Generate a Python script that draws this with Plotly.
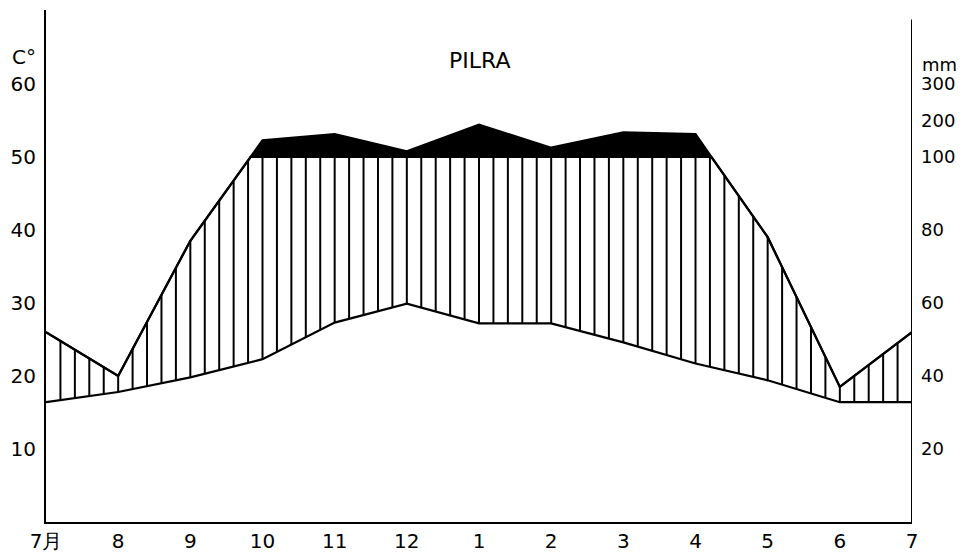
import plotly.graph_objects as go
import numpy as np

# climate diagram data, July to July
months = ["7月", "8", "9", "10", "11", "12", "1", "2", "3", "4", "5", "6", "7"]
temp = [16.4, 17.8, 19.8, 22.3, 27.3, 29.9, 27.2, 27.2, 24.6, 21.7, 19.4, 16.4, 16.4]
precip = [52, 40, 77, 145, 162, 115, 188, 125, 167, 162, 78, 37, 52]

temp_ticks = [10, 20, 30, 40, 50, 60]
mm_ticks = [20, 40, 60, 80, 100, 200, 300]


def mm_to_c(p):
    # Walter-Lieth scale: 20 mm = 10 C, above 100 mm reduced to 1/10
    return p / 2 if p <= 100 else 50 + (p - 100) / 20


x = np.arange(len(months))
pt = np.array([mm_to_c(p) for p in precip])

# black area (precipitation above 100 mm), with crossing points on the 100 mm line
px, py = [], []
for i in range(len(x)):
    px.append(x[i]); py.append(pt[i])
    if i < len(x) - 1 and (pt[i] - 50) * (pt[i + 1] - 50) < 0:
        f = (50 - pt[i]) / (pt[i + 1] - pt[i])
        px.append(x[i] + f); py.append(50)
py = np.array(py)

# vertical hatching between temperature and precipitation (humid period)
hx, hy = [], []
for k in range(1, 5 * (len(x) - 1)):
    xh = k / 5
    lo = np.interp(xh, x, temp)
    hi = min(np.interp(xh, x, pt), 50)
    if hi > lo:
        hx += [xh, xh, None]
        hy += [lo, hi, None]

fig = go.Figure()
fig.add_trace(go.Scatter(x=px, y=np.minimum(py, 50), mode="lines",
                         line=dict(width=0), showlegend=False))
fig.add_trace(go.Scatter(x=px, y=py, mode="lines", fill="tonexty",
                         fillcolor="black", line=dict(color="black", width=2.2),
                         showlegend=False))
fig.add_trace(go.Scatter(x=hx, y=hy, mode="lines",
                         line=dict(color="black", width=2), showlegend=False))
fig.add_trace(go.Scatter(x=px, y=np.minimum(py, 50), mode="lines",
                         line=dict(color="black", width=2.2), showlegend=False))
fig.add_trace(go.Scatter(x=x, y=temp, mode="lines",
                         line=dict(color="black", width=2.2), showlegend=False))
# invisible trace to activate the right axis
fig.add_trace(go.Scatter(x=[0], y=[0], yaxis="y2", mode="markers",
                         marker=dict(opacity=0), showlegend=False, hoverinfo="skip"))

fnt = dict(family="DejaVu Sans", size=20, color="black")
rfnt = dict(family="DejaVu Sans", size=18, color="black")
fig.update_layout(
    width=966, height=554,
    margin=dict(l=46, r=54, t=10, b=32),
    plot_bgcolor="white", paper_bgcolor="white",
    font=fnt,
    xaxis=dict(range=[0, 12], tickvals=list(x), ticktext=months,
               showline=True, linecolor="black", linewidth=2,
               showgrid=False, zeroline=False, ticks="", automargin=False),
    yaxis=dict(range=[0, 70.1], tickvals=temp_ticks,
               showline=True, linecolor="black", linewidth=2,
               showgrid=False, zeroline=False, ticks="", ticklabelstandoff=4,
               automargin=False),
    yaxis2=dict(range=[0, 70.1], overlaying="y", side="right",
                tickvals=[mm_to_c(m) for m in mm_ticks],
                ticktext=[str(m) for m in mm_ticks], tickfont=rfnt,
                showline=False, showgrid=False, zeroline=False, ticks="",
                ticklabelstandoff=8, automargin=False),
    shapes=[dict(type="line", xref="x", yref="y", x0=12, x1=12, y0=0, y1=68.8,
                 line=dict(color="black", width=2))],
    annotations=[
        dict(text="PILRA", xref="paper", x=0.5, yref="y", y=63.2,
             showarrow=False, font=dict(family="DejaVu Sans", size=22)),
        dict(text="C°", xref="paper", x=0, xanchor="right", xshift=-8,
             yref="y", y=63.6, showarrow=False, font=fnt),
        dict(text="mm", xref="paper", x=1, xanchor="left", xshift=8,
             yref="y", y=62.6, showarrow=False, font=rfnt),
    ],
)

# drop the page's default body margin so the figure fills the window
fig.write_html("out.html", config={"displayModeBar": False},
               post_script="document.body.style.margin='0';")
